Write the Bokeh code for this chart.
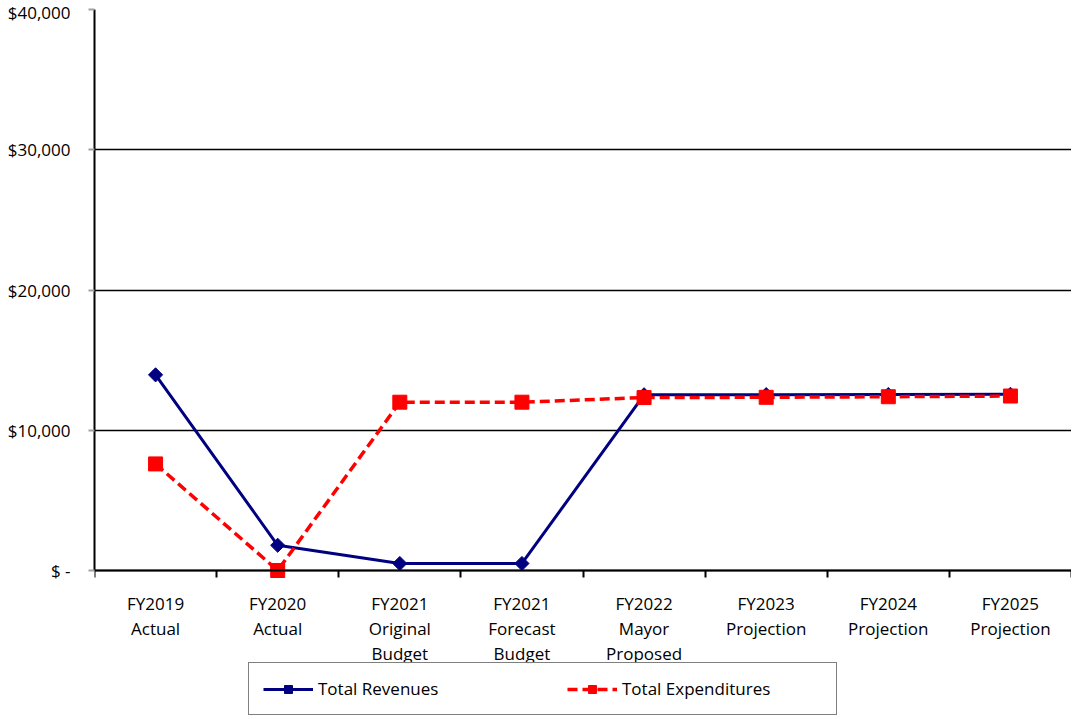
import numpy as np
from bokeh.plotting import figure
from bokeh.models import (FixedTicker, Legend, LegendItem, Range1d, ColumnDataSource)
from bokeh.embed import file_html
from bokeh.resources import INLINE

categories = ["FY2019\nActual", "FY2020\nActual", "FY2021\nOriginal\nBudget",
              "FY2021\nForecast\nBudget", "FY2022\nMayor\nProposed",
              "FY2023\nProjection", "FY2024\nProjection", "FY2025\nProjection"]
total_revenues = [13950, 1800, 500, 500, 12530, 12540, 12550, 12560]
total_expenditures = [7600, 0, 12000, 12000, 12330, 12350, 12390, 12440]
y_ticks = [0, 10000, 20000, 30000, 40000]
y_tick_labels = ["$ -", "$10,000", "$20,000", "$30,000", "$40,000"]
y_max = 40000

FONT = "Open Sans"
FS = "17px"

# layout: value area is 561px tall, extra room below it for labels and legend
PLOT_H = 561
FRAME_H = 706
y_min = -y_max * (FRAME_H - PLOT_H) / PLOT_H

x_pos = list(np.arange(len(categories)) + 0.5)
src = ColumnDataSource(dict(x=x_pos, rev=total_revenues, exp=total_expenditures))

p = figure(frame_width=977, frame_height=FRAME_H, output_backend="svg", toolbar_location=None,
           x_range=Range1d(0, len(categories)), y_range=Range1d(y_min, y_max),
           min_border_top=9, min_border_left=94, min_border_right=0, min_border_bottom=0)
p.outline_line_color = None
p.background_fill_color = "white"

# grid
p.xgrid.visible = False
p.ygrid.ticker = FixedTicker(ticks=y_ticks)
p.ygrid.grid_line_color = "black"
p.ygrid.grid_line_width = 1.5

# y axis
ya = p.yaxis[0]
ya.axis_label = None
ya.bounds = (0, y_max)
ya.ticker = FixedTicker(ticks=y_ticks)
ya.major_label_overrides = {t: l for t, l in zip(y_ticks, y_tick_labels)}
ya.axis_line_color = "black"
ya.axis_line_width = 2
ya.major_tick_line_color = "#a0a0a0"
ya.major_tick_line_width = 2
ya.major_tick_out = 6
ya.major_tick_in = 0
ya.minor_tick_line_color = None
ya.major_label_standoff = 18
ya.major_label_text_font = FONT
ya.major_label_text_font_size = FS
ya.major_label_text_color = "black"

# x axis at y = 0: labels at centers, ticks at boundaries
xa = p.xaxis[0]
xa.axis_label = None
xa.fixed_location = 0
xa.ticker = FixedTicker(ticks=x_pos, minor_ticks=list(range(len(categories) + 1)))
xa.major_label_overrides = {float(x): c for x, c in zip(x_pos, categories)}
xa.axis_line_color = "black"
xa.axis_line_width = 2
xa.major_tick_line_color = None
xa.major_tick_out = 0
xa.major_tick_in = 0
xa.minor_tick_line_color = "black"
xa.minor_tick_line_width = 2
xa.minor_tick_out = 7
xa.minor_tick_in = 0
xa.major_label_standoff = 14
xa.major_label_text_font = FONT
xa.major_label_text_font_size = FS
xa.major_label_text_color = "black"
xa.major_label_text_line_height = 1.1

# series
r1 = p.line("x", "rev", source=src, line_color="#000080", line_width=3)
m1 = p.scatter("x", "rev", source=src, marker="square", angle=np.pi / 4, size=10,
               fill_color="#000080", line_color="#000080")
r2 = p.line("x", "exp", source=src, line_color="#ff0000", line_width=3.5, line_dash="10 5")
m2 = p.scatter("x", "exp", source=src, marker="square", size=14,
               fill_color="#ff0000", line_color="#ff0000")

legend = Legend(items=[LegendItem(label="Total Revenues", renderers=[r1, m1]),
                       LegendItem(label="Total Expenditures", renderers=[r2, m2])],
                orientation="horizontal", location=(154, 0),
                glyph_width=50, glyph_height=20, label_standoff=5, spacing=49,
                label_width=200, padding=14, margin=0,
                border_line_color="black", border_line_width=1,
                label_text_font=FONT, label_text_font_size=FS, label_text_color="black")
p.add_layout(legend, "center")

open("out.html", "w").write(file_html(p, INLINE))
